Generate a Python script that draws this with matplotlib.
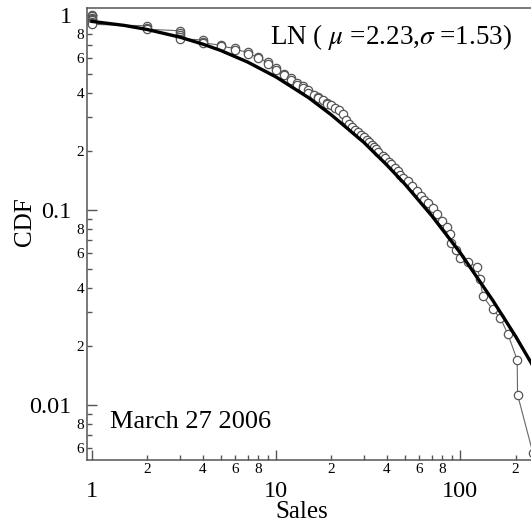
import matplotlib
matplotlib.use("Agg")
import matplotlib.pyplot as plt
from matplotlib.ticker import LogLocator, FuncFormatter
import numpy as np

plt.rcParams['font.family'] = ['Liberation Serif', 'DejaVu Serif']
plt.rcParams['mathtext.fontset'] = 'stix'

sales = [1, 1, 1, 1, 1, 1, 1, 1,
         2, 2, 2,
         3, 3, 3, 3, 3,
         4, 4, 4,
         5, 5, 6, 6, 7, 7, 8, 8, 9, 9, 10, 10,
         11, 11, 12, 12, 13, 13, 14, 14, 15, 15, 16, 17, 17, 18, 19, 19, 20,
         21, 22, 23, 24, 25, 26, 27, 28, 29, 30, 31, 32, 33, 34, 35, 36,
         38, 39, 41, 42, 44, 46, 47, 49, 52, 55, 58, 61, 64, 67, 71, 75,
         80, 85, 88, 89, 95, 100, 110, 124, 128, 133, 150, 165, 182, 204,
         205, 248]
cdf = [1.0, 0.985, 0.97, 0.955, 0.94, 0.925, 0.91, 0.895,
       0.88, 0.86, 0.845,
       0.83, 0.81, 0.79, 0.77, 0.755,
       0.745, 0.73, 0.72,
       0.70, 0.69, 0.675, 0.665, 0.645, 0.63, 0.61, 0.60, 0.575, 0.56, 0.535, 0.52,
       0.50, 0.49, 0.475, 0.465, 0.45, 0.44, 0.43, 0.42, 0.41, 0.40, 0.39, 0.38, 0.375,
       0.365, 0.355, 0.35, 0.345,
       0.335, 0.325, 0.31, 0.29, 0.275, 0.265, 0.257, 0.25, 0.243, 0.236, 0.228, 0.222,
       0.216, 0.21, 0.205, 0.199,
       0.19, 0.185, 0.177, 0.172, 0.164, 0.158, 0.152, 0.146, 0.14, 0.133, 0.125, 0.118,
       0.113, 0.108, 0.102, 0.095,
       0.088, 0.082, 0.075, 0.068, 0.062, 0.057, 0.054, 0.051, 0.044, 0.036, 0.031,
       0.028, 0.023, 0.017,
       0.0113, 0.0057]

# lognormal fit curve
fit_x = [1, 1.5, 2, 3, 4, 5, 7, 10, 15, 20, 30, 40, 50, 70, 100, 150, 200, 250, 300]
fit_y = [0.927, 0.884, 0.842, 0.770, 0.709, 0.658, 0.574, 0.481, 0.377, 0.307,
         0.222, 0.170, 0.136, 0.0936, 0.0604, 0.0345, 0.0225, 0.0157, 0.0116]

W, H = 531, 529
fig = plt.figure(figsize=(W / 100, H / 100), dpi=100)
ax = fig.add_axes([87 / W, 69 / H, (548 - 87) / W, (460 - 8) / H])

ax.plot(sales, cdf, '-', color='#666666', lw=0.8, marker='o', ms=6,
        mfc='white', mec='#555555', mew=0.9, zorder=2)
ax.plot(fit_x, fit_y, '-', color='black', lw=2.4, zorder=3)

ax.set_xscale('log')
ax.set_yscale('log')
ax.set_xlim(0.94, 300)
ax.set_ylim(0.00522, 1.086)

for s in ax.spines.values():
    s.set_color('#555555')
    s.set_linewidth(1.1)


def minor_fmt(v, pos):
    lead = int(round(v / 10 ** np.floor(np.log10(v) + 1e-9)))
    return str(lead) if lead in (2, 4, 6, 8) else ''


def major_fmt(v, pos):
    if v >= 1:
        return '%d' % v
    return '%g' % v


for axis in (ax.xaxis, ax.yaxis):
    axis.set_major_locator(LogLocator(base=10, numticks=10))
    axis.set_minor_locator(LogLocator(base=10, subs=np.arange(2, 10), numticks=20))
    axis.set_major_formatter(FuncFormatter(major_fmt))
    axis.set_minor_formatter(FuncFormatter(minor_fmt))

ax.tick_params(which='both', direction='in', color='#555555', top=False, right=False)
ax.tick_params(which='major', length=7, width=1.0, labelsize=17.5)
ax.tick_params(which='minor', length=3.5, width=1.0, labelsize=11)
ax.tick_params(axis='x', which='major', pad=15)
ax.tick_params(axis='x', which='minor', pad=2)
ax.tick_params(axis='y', which='major', pad=11)
ax.tick_params(axis='y', which='minor', pad=2)

fig.text(25 / W, 1 - 222 / H, 'CDF', rotation=90, fontsize=18,
         ha='center', va='center')
fig.text(302 / W, 1 - 512 / H, 'Sales', fontsize=18, ha='center', va='center')

fig.text(270 / W, 1 - 37 / H, r'LN ( $\mu$ =2.23,$\sigma$ =1.53)', fontsize=19.5,
         ha='left', va='center')
fig.text(110 / W, 1 - 422 / H, 'March 27 2006', fontsize=19, ha='left', va='center')

fig.savefig('out.png', dpi=100)
